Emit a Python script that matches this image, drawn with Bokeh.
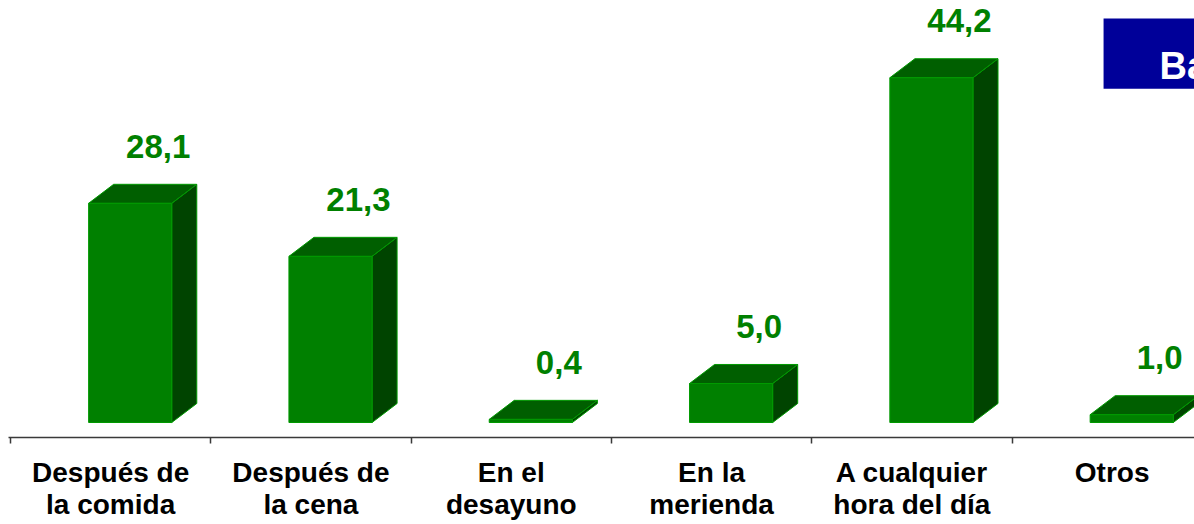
from bokeh.plotting import figure
from bokeh.models import Range1d, FixedTicker, LinearAxis, BoxAnnotation, Label, ColumnDataSource
from bokeh.core.properties import value
from bokeh.embed import file_html
from bokeh.resources import INLINE

# ---- data ----
categories = ["Después de\nla comida", "Después de\nla cena", "En el\ndesayuno",
              "En la\nmerienda", "A cualquier\nhora del día", "Otros"]
values = [28.1, 21.3, 0.4, 5.0, 44.2, 1.0]
box_text = "Ba"

# ---- style / geometry constants ----
FRONT_L, FRONT_R = 0.39, 0.805
DX, DY = 0.125, 2.44
FRONT = "#008000"
TOP = "#005f00"
SIDE = "#004400"
EDGE = "#009a00"
FONT = "Liberation Sans"

n = len(categories)
xs_l = [i + FRONT_L for i in range(n)]
xs_r = [i + FRONT_R for i in range(n)]
labels = [f"{v:.1f}".replace(".", ",") for v in values]

front = ColumnDataSource(dict(left=xs_l, right=xs_r, top=values, bottom=[0] * n))
top_xs = [[l, r, r + DX, l + DX] for l, r in zip(xs_l, xs_r)]
top_ys = [[v, v, v + DY, v + DY] for v in values]
side_xs = [[r, r + DX, r + DX, r] for r in xs_r]
side_ys = [[0, DY, v + DY, v] for v in values]
lab = ColumnDataSource(dict(x=[(l + r) / 2 for l, r in zip(xs_l, xs_r)], y=values, text=labels))

p = figure(frame_width=1186, frame_height=429,
           x_range=Range1d(-0.01, 5.911), y_range=Range1d(-1.923, 53.08),
           output_backend="svg", toolbar_location=None, min_border=0,
           min_border_left=8, min_border_top=8,
           x_axis_type=None, y_axis_type=None)
p.outline_line_color = None
p.xgrid.visible = False
p.ygrid.visible = False
p.background_fill_color = "white"
p.border_fill_color = "white"

p.patches(side_xs, side_ys, fill_color=SIDE, line_color=EDGE, line_width=1)
p.patches(top_xs, top_ys, fill_color=TOP, line_color=EDGE, line_width=1)
p.quad(left="left", right="right", top="top", bottom="bottom", source=front,
       fill_color=FRONT, line_color=EDGE, line_width=1)

p.text(x="x", y="y", text="text", source=lab, x_offset=28, y_offset=-57,
       text_align="center", text_baseline="middle", text_color=FRONT,
       text_font=value(FONT), text_font_size="33px", text_font_style="bold")

axis = LinearAxis(ticker=FixedTicker(ticks=[i + 0.5 for i in range(n)],
                                     minor_ticks=list(range(n + 1))))
axis.major_label_overrides = {i + 0.5: c for i, c in enumerate(categories)}
axis.major_tick_out = 0
axis.major_tick_in = 0
axis.minor_tick_out = 6
axis.minor_tick_in = 0
axis.axis_line_color = "#3a3a3a"
axis.axis_line_width = 1.5
axis.minor_tick_line_color = "#3a3a3a"
axis.minor_tick_line_width = 1.5
axis.major_label_standoff = 13
axis.major_label_text_font = FONT
axis.major_label_text_font_size = "28px"
axis.major_label_text_font_style = "bold"
axis.major_label_text_color = "black"
axis.major_label_text_line_height = 1.05
p.add_layout(axis, "below")

p.add_layout(BoxAnnotation(left=5.457, right=7.0, top=51.8, bottom=42.8,
                           fill_color="#000099", fill_alpha=1.0, line_color=None))
p.add_layout(Label(x=5.736, y=45.77, text=box_text, text_color="white",
                   text_font=FONT, text_font_size="38px", text_font_style="bold",
                   text_baseline="alphabetic"))

with open("out.html", "w", encoding="utf-8") as f:
    f.write(file_html(p, INLINE))
